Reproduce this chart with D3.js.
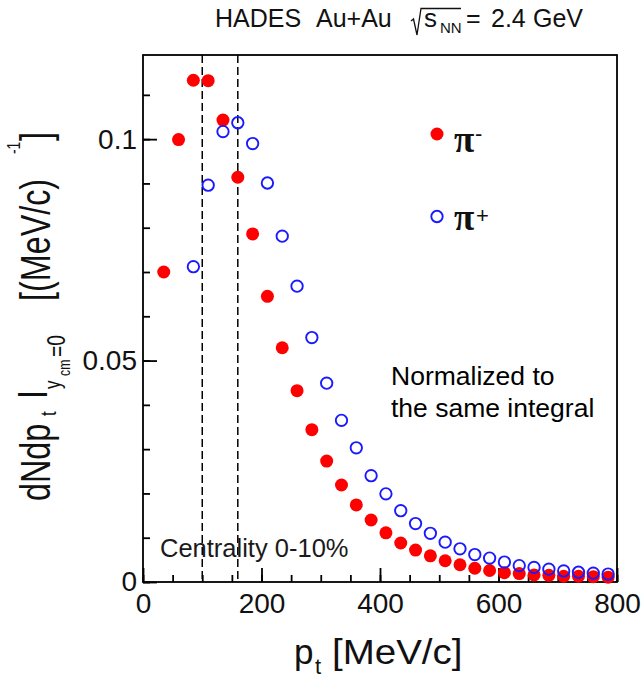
<!DOCTYPE html>
<html>
<head>
<meta charset="utf-8">
<script src="https://cdn.jsdelivr.net/npm/d3@7"></script>
<style>
  html, body { margin: 0; padding: 0; background: #fff; }
  svg { display: block; font-family: "Liberation Sans", Arial, Helvetica, sans-serif; }
</style>
</head>
<body>
<svg id="chart" width="642" height="680"></svg>
<script>
// ---- data ----
const piMinusPt = [35, 60, 85, 110, 135, 160, 185, 210, 235, 260, 285, 310, 335, 360, 385,
  410, 435, 460, 485, 510, 535, 560, 585, 610, 635, 660, 685, 710, 735, 760, 785];
const piMinusVal = [0.0700, 0.0999, 0.1133, 0.1132, 0.1043, 0.0914, 0.0786, 0.0645, 0.0529, 0.0432,
  0.0344, 0.0273, 0.0219, 0.0174, 0.0140, 0.0111, 0.0088, 0.0072, 0.0059, 0.0048, 0.0039,
  0.0031, 0.0026, 0.0021, 0.0019, 0.0016, 0.0015, 0.0013, 0.0013, 0.0012, 0.0011];
const piPlusPt = [85, 110, 135, 160, 185, 210, 235, 260, 285, 310, 335, 360, 385,
  410, 435, 460, 485, 510, 535, 560, 585, 610, 635, 660, 685, 710, 735, 760, 785];
const piPlusVal = [0.0712, 0.0896, 0.1017, 0.1037, 0.0990, 0.0901, 0.0781, 0.0668, 0.0552, 0.0449,
  0.0365, 0.0303, 0.0240, 0.0199, 0.0161, 0.0132, 0.0110, 0.0090, 0.0075, 0.0062, 0.0054,
  0.0045, 0.0037, 0.0033, 0.0029, 0.0025, 0.0022, 0.0020, 0.0018];
const dashedPt = [100, 160];
const xTickValues = [0, 200, 400, 600, 800];
const xTickLabels = ["0", "200", "400", "600", "800"];
const xMinorTicks = d3.range(0, 801, 50);
const yTickValues = [0, 0.05, 0.1];
const yTickLabels = ["0", "0.05", "0.1"];
const yMinorTicks = d3.range(0, 0.1151, 0.01);
const seriesNames = ["\u03c0", "\u03c0"];
const seriesCharges = ["-", "+"];
const titleParts = ["HADES", "Au+Au", "s", "NN", "=", "2.4", "GeV"];
const note = ["Normalized to", "the same integral"];
const centrality = "Centrality 0-10%";

// ---- layout ----
const L = 143, R = 617, T = 55, B = 582;
const svg = d3.select("#chart");
const x = d3.scaleLinear().domain([0, 800]).range([L, R]);
const y = d3.scaleLinear().domain([0, 0.119]).range([B, T]);
const FONT = "'Liberation Sans', Arial, Helvetica, sans-serif";

// dashed lines
svg.append("g").selectAll("line").data(dashedPt).join("line")
  .attr("x1", d => x(d)).attr("x2", d => x(d))
  .attr("y1", T).attr("y2", B)
  .attr("stroke", "#000").attr("stroke-width", 1.5).attr("stroke-dasharray", "8,4");

// axes: minor ticks
svg.append("g").attr("transform", `translate(0,${B})`)
  .call(d3.axisBottom(x).tickValues(xMinorTicks).tickSize(-7).tickFormat(""))
  .call(g => g.select(".domain").remove())
  .call(g => g.selectAll("line").attr("stroke", "#000").attr("stroke-width", 1.8));
svg.append("g").attr("transform", `translate(${L},0)`)
  .call(d3.axisLeft(y).tickValues(yMinorTicks).tickSize(-7).tickFormat(""))
  .call(g => g.select(".domain").remove())
  .call(g => g.selectAll("line").attr("stroke", "#000").attr("stroke-width", 1.8));

// axes: major ticks with labels
svg.append("g").attr("transform", `translate(0,${B})`)
  .call(d3.axisBottom(x).tickValues(xTickValues).tickSize(-14).tickPadding(11)
    .tickFormat((d, i) => xTickLabels[i]))
  .call(g => g.select(".domain").remove())
  .call(g => g.selectAll("line").attr("stroke", "#000").attr("stroke-width", 1.8))
  .call(g => g.selectAll("text").attr("fill", "#111").attr("font-size", 28).attr("font-family", FONT));
svg.append("g").attr("transform", `translate(${L},0)`)
  .call(d3.axisLeft(y).tickValues(yTickValues).tickSize(-14).tickPadding(6)
    .tickFormat((d, i) => yTickLabels[i]))
  .call(g => g.select(".domain").remove())
  .call(g => g.selectAll("line").attr("stroke", "#000").attr("stroke-width", 1.8))
  .call(g => g.selectAll("text").attr("fill", "#111").attr("font-size", 28).attr("font-family", FONT));

// frame
svg.append("rect").attr("x", L).attr("y", T).attr("width", R - L).attr("height", B - T)
  .attr("fill", "none").attr("stroke", "#000").attr("stroke-width", 1.8);

// data points
const red = piMinusPt.map((p, i) => ({p, v: piMinusVal[i]}));
const blue = piPlusPt.map((p, i) => ({p, v: piPlusVal[i]}));
svg.append("g").selectAll("circle").data(red).join("circle")
  .attr("cx", d => x(d.p)).attr("cy", d => y(d.v)).attr("r", 6.5).attr("fill", "#ff0000");
svg.append("g").selectAll("circle").data(blue).join("circle")
  .attr("cx", d => x(d.p)).attr("cy", d => y(d.v)).attr("r", 5.7)
  .attr("fill", "none").attr("stroke", "#1a1aff").attr("stroke-width", 1.9);

// legend
const leg = svg.append("g");
leg.append("circle").attr("cx", 437).attr("cy", 134).attr("r", 6.5).attr("fill", "#ff0000");
leg.append("circle").attr("cx", 437).attr("cy", 216.5).attr("r", 5.7)
  .attr("fill", "none").attr("stroke", "#1a1aff").attr("stroke-width", 1.9);
[152, 230].forEach((by, i) => {
  leg.append("text").attr("x", 454).attr("y", by)
    .attr("font-family", "'Liberation Serif', 'DejaVu Serif', serif").attr("font-size", 37)
    .attr("font-weight", "bold").attr("fill", "#111").text(seriesNames[i]);
});
leg.append("text").attr("x", 475).attr("y", 141).attr("font-size", 22).attr("font-family", FONT)
  .attr("fill", "#111").text(seriesCharges[0]);
leg.append("text").attr("x", 476).attr("y", 223).attr("font-size", 22).attr("font-family", FONT)
  .attr("fill", "#111").text(seriesCharges[1]);

// note text
svg.append("text").attr("x", 391).attr("y", 385).attr("font-size", 26.5).attr("fill", "#000")
  .attr("font-family", FONT).text(note[0]);
svg.append("text").attr("x", 391).attr("y", 417).attr("font-size", 26.5).attr("fill", "#000")
  .attr("font-family", FONT).text(note[1]);

// centrality
svg.append("text").attr("x", 160).attr("y", 557).attr("font-size", 25.5).attr("fill", "#1a1a1a")
  .attr("font-family", FONT).text(centrality);

// title
const tt = svg.append("g").attr("font-family", FONT).attr("fill", "#111");
tt.append("text").attr("x", 215).attr("y", 27).attr("font-size", 25).text(titleParts[0]);
tt.append("text").attr("x", 316).attr("y", 27).attr("font-size", 25).text(titleParts[1]);
tt.append("path").attr("d", "M411,21 L413.5,19 L417,35 L421,8.5 L461,8.5")
  .attr("fill", "none").attr("stroke", "#111").attr("stroke-width", 1.3);
tt.append("text").attr("x", 424).attr("y", 27).attr("font-size", 26).text(titleParts[2]);
tt.append("text").attr("x", 440).attr("y", 33).attr("font-size", 15).text(titleParts[3]);
tt.append("text").attr("x", 466).attr("y", 27).attr("font-size", 25).text(titleParts[4]);
tt.append("text").attr("x", 491).attr("y", 27).attr("font-size", 25).text(titleParts[5]);
tt.append("text").attr("x", 533).attr("y", 27).attr("font-size", 25).text(titleParts[6]);

// x axis title: p_t [MeV/c]
const xt = svg.append("g").attr("font-family", FONT).attr("fill", "#111");
xt.append("text").attr("x", 294).attr("y", 664).attr("font-size", 35).text("p");
xt.append("text").attr("x", 315).attr("y", 674).attr("font-size", 22).text("t");
xt.append("text").attr("transform", "translate(332,664) scale(1.1,1)").attr("font-size", 35).text("[MeV/c]");

// y axis title (rotated pieces)
const yPieces = [
  {t: "dNdp", fs: 42, s: 501, b: 50},
  {t: "t", fs: 22, s: 416, b: 56},
  {t: "I", fs: 42, s: 399, b: 47},
  {t: "y", fs: 22, s: 389, b: 60},
  {t: "cm", fs: 16, s: 376, b: 70},
  {t: "=0", fs: 25, s: 357, b: 65},
  {t: "[(MeV/c)", fs: 42, s: 301, b: 50},
  {t: "-1", fs: 18, s: 154, b: 20},
  {t: "]", fs: 42, s: 141, b: 50}
];
const yt = svg.append("g").attr("font-family", FONT).attr("fill", "#111");
yPieces.forEach(p => {
  yt.append("text")
    .attr("transform", `translate(${p.b},${p.s}) rotate(-90) scale(0.77,1)`)
    .attr("font-size", p.fs).text(p.t);
});
</script>
</body>
</html>
